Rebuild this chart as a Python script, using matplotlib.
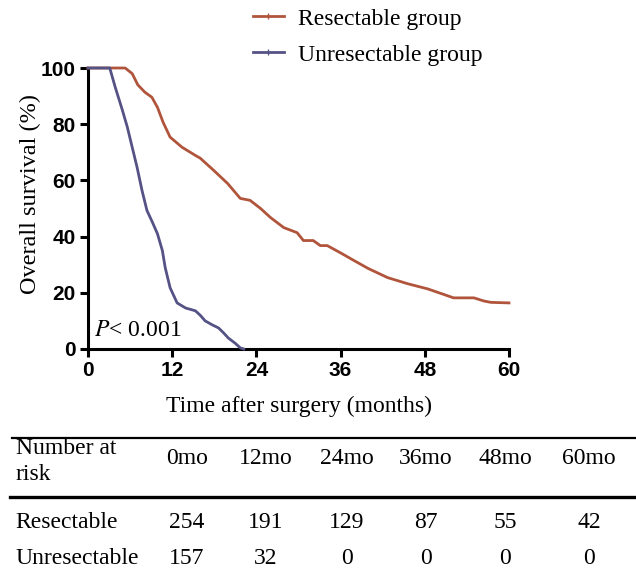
import matplotlib
matplotlib.use("Agg")
import matplotlib.pyplot as plt
from matplotlib.lines import Line2D

plt.rcParams["mathtext.fontset"] = "stix"

# Kaplan-Meier curves (months, survival %)
res_t = [0, 3.4, 5.3, 6.3, 7.1, 8.1, 9.1, 9.9, 10.7, 11.7, 13.4, 15.3, 16.0,
         17.9, 19.9, 21.7, 23.1, 24.6, 26.0, 27.9, 29.8, 30.7, 32.1, 33.1,
         34.1, 36.0, 37.9, 39.9, 42.7, 45.6, 48.4, 51.3, 52.1, 55.0, 56.4,
         57.4, 60.0]
res_s = [100, 100, 100, 98.0, 94.0, 91.4, 89.6, 86.0, 80.7, 75.4, 71.8, 68.9,
         67.9, 63.6, 58.9, 53.6, 52.9, 50.0, 46.8, 43.2, 41.4, 38.6, 38.6, 36.8,
         36.8, 34.2, 31.5, 28.7, 25.4, 23.2, 21.4, 18.9, 18.2, 18.2, 17.1,
         16.6, 16.4]

unres_t = [0, 3.1, 3.9, 4.9, 5.6, 6.3, 7.0, 7.7, 8.4, 9.2, 9.9, 10.6, 11.0,
           11.7, 12.7, 13.9, 15.3, 16.0, 16.7, 17.7, 18.6, 19.3, 20.0, 21.0,
           21.7, 22.2]
unres_s = [100, 100, 93.0, 85.0, 79.0, 71.8, 64.6, 56.4, 49.3, 45.0, 41.0,
           35.0, 29.0, 21.8, 16.4, 14.6, 13.6, 12.0, 10.0, 8.6, 7.5, 5.8, 3.9,
           2.0, 0.4, 0]

groups = ["Resectable group", "Unresectable group"]
x_ticks = [0, 12, 24, 36, 48, 60]
y_ticks = [0, 20, 40, 60, 80, 100]

# number at risk table
risk_cols = ["0mo", "12mo", "24mo", "36mo", "48mo", "60mo"]
risk_rows = ["Resectable", "Unresectable"]
risk_res = [254, 191, 129, 87, 55, 42]
risk_unres = [157, 32, 0, 0, 0, 0]

c_res = "#B0553C"
c_unres = "#555285"

W, H = 636, 577
fig = plt.figure(figsize=(W / 100, H / 100), dpi=100)
fig.patch.set_facecolor("white")

# main survival plot
ax = fig.add_axes([88 / W, 1 - 349 / H, 421 / W, 281 / H])
ax.plot(res_t, res_s, color=c_res, lw=2.0, clip_on=False, zorder=3)
ax.plot(unres_t, unres_s, color=c_unres, lw=2.0, clip_on=False, zorder=4)

ax.set_xlim(0, 60)
ax.set_ylim(0, 100)
ax.set_xticks(x_ticks)
ax.set_yticks(y_ticks)
for side in ["top", "right"]:
    ax.spines[side].set_visible(False)
for side in ["left", "bottom"]:
    ax.spines[side].set_linewidth(2.2)
ax.tick_params(direction="out", length=6, width=2.2, pad=3)
for lab in ax.get_xticklabels() + ax.get_yticklabels():
    lab.set_fontfamily("Liberation Sans")
    lab.set_fontweight("bold")
    lab.set_fontsize(15)

ax.set_xlabel("Time after surgery (months)", family="Liberation Serif",
              fontsize=17, labelpad=11)
ax.set_ylabel("Overall survival (%)", family="Liberation Serif", fontsize=17.5)
ax.yaxis.set_label_coords(-0.112, 0.55)

ax.text(0.9, 3.0, "$P$< 0.001", family="Liberation Serif", fontsize=17,
        ha="left", va="bottom")

handles = [Line2D([], [], color=c_res, lw=2.0, marker="|", markersize=4),
           Line2D([], [], color=c_unres, lw=2.0, marker="|", markersize=4)]
fig.legend(handles, groups, loc="upper left",
           bbox_to_anchor=(253 / W, 1 - 8 / H), frameon=False,
           prop={"family": "Liberation Serif", "size": 17},
           handlelength=1.3, handletextpad=0.62, labelspacing=0.62,
           borderpad=0, borderaxespad=0)

# number at risk table, drawn in pixel coordinates
tb = fig.add_axes([0, 0, 1, 157 / H])
tb.set_xlim(0, W)
tb.set_ylim(H, 420)
tb.axis("off")
tb.plot([12, W], [437.5, 437.5], color="black", lw=1.6)
tb.plot([10, W], [497, 497], color="black", lw=2.4)

col_x = [187, 266, 347, 426, 505, 589]
tfont = {"family": "Liberation Serif", "size": 17}
tb.text(16, 449, "Number at", ha="left", va="center", **tfont)
tb.text(16, 474, "risk", ha="left", va="center", **tfont)
for x, lab in zip(col_x, risk_cols):
    tb.text(x, 459, lab, ha="center", va="center", **tfont)

row_y = [522, 558]
for y, name, vals in zip(row_y, risk_rows, [risk_res, risk_unres]):
    tb.text(15, y, name, ha="left", va="center", **tfont)
    for x, v in zip(col_x, vals):
        tb.text(x, y, str(v), ha="center", va="center", **tfont)

fig.savefig("out.png", dpi=100)
